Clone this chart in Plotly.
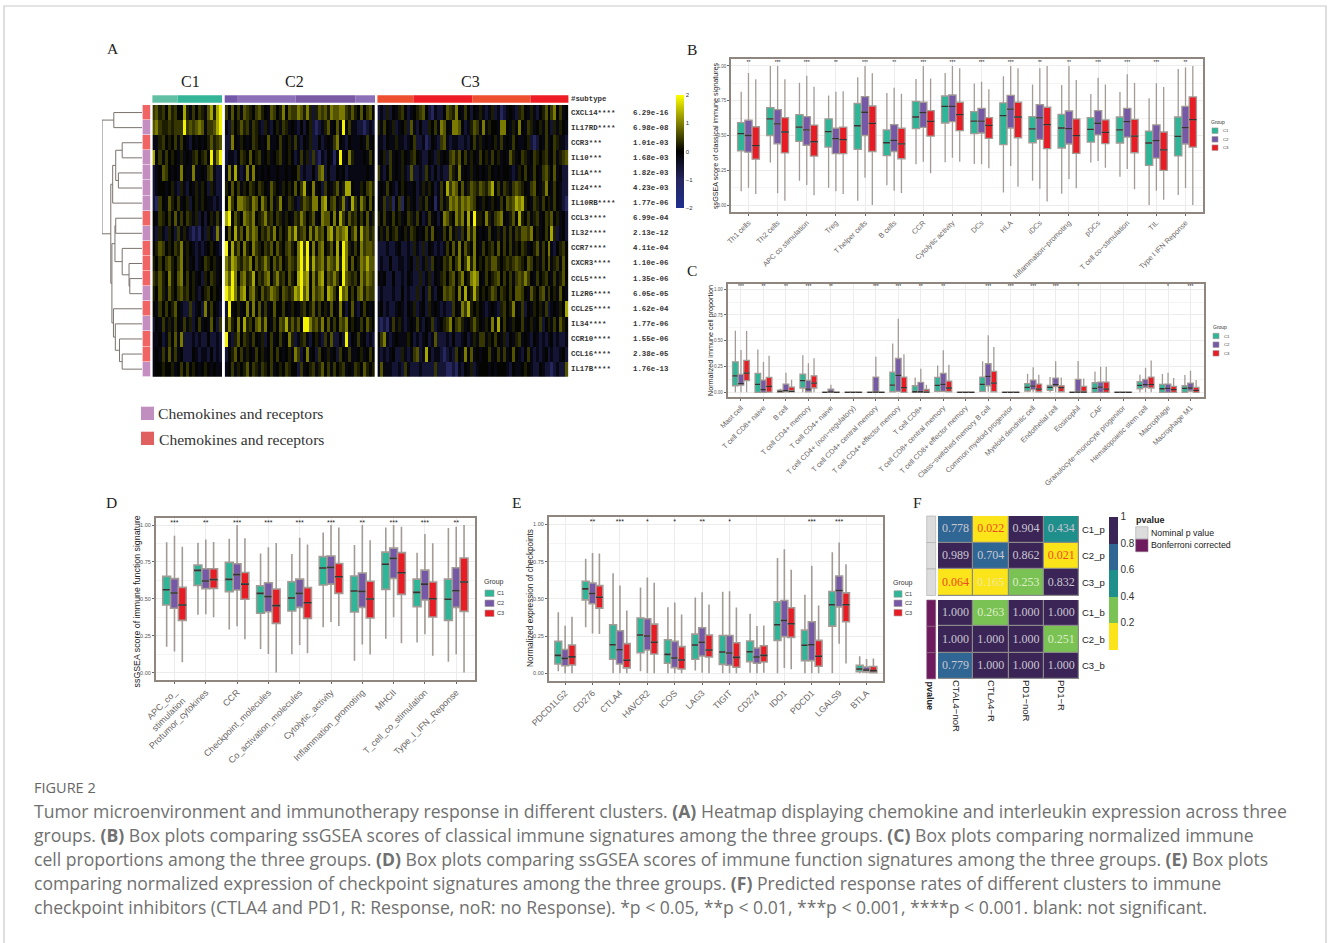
import plotly.graph_objects as go

W, H = 1328, 943

# ---------- Panel A data ----------
genes = ["CXCL14****","IL17RD****","CCR3***","IL10***","IL1A***","IL24***","IL10RB****","CCL3****","IL32****",
         "CCR7****","CXCR3****","CCL5****","IL2RG****","CCL25****","IL34****","CCR10****","CCL16****","IL17B****"]
pvals = ["6.29e-16","6.98e-08","1.01e-03","1.68e-03","1.82e-03","4.23e-03","1.77e-06","6.99e-04","2.13e-12",
         "4.11e-04","1.10e-06","1.35e-06","6.05e-05","1.62e-04","1.77e-06","1.55e-06","2.38e-05","1.76e-13"]
row_type = [1,0,1,0,0,0,0,1,0,1,1,1,0,1,0,1,1,0]
level_values = [-1.0,-0.55,-0.2,0.03,0.22,0.42,0.65,0.95,1.3,1.9]

c1_rows = ["56453645338425354268489","67544545559565676255689","22453435253213232346456",
"83525343242324534539479","12365323273227223256211","12332342142132424314211",
"10532643523413424322121","32543536253542413134252","21421431524210102142171",
"34653435472432121234321","43535643573423123543423","54643743673534231435423",
"43642643564534213453432","32535346321151231725321","13252425325241352326315",
"22312536271112121131121","23252625231113212213121","23343342353534323432322"]
c2_rows = ["52635265435643265347365"+"576474146564766775464363563",
"21534645254214213425423"+"213134101246236293522110121",
"11732432354323622352342"+"521324113123257321322232523",
"12213543634523423452343"+"125241510213203923742223253",
"27282127273232322322323"+"351211316713113231222222322",
"43635243543543264324343"+"635823723153246248832243564",
"38537765476375362473254"+"214654773783562471285275363",
"89364376573457453542432"+"547534623766373852645353624",
"36384637576354647353475"+"845637475637847678357385645",
"92846374375435463643564"+"379593726734638397425375665",
"75875465736457536463465"+"479694856747658497363476866",
"86973674583546735745364"+"389783747836575396545375765",
"98974783674364576536545"+"879683756738753967353674655",
"19234237273625236335324"+"324534625342632731362135323",
"47437384536747325365846"+"463997564736253657343253643",
"92146354253241352352374"+"124521342152611319132523121",
"13463524325342353532342"+"751372315324231532522342353",
"23524346354254352343543"+"315234524635253452325436434"]
c3_rows = ["121413245312345631021"+"1365473253132421241201232145324213463573523",
"425324123416213114352"+"7632776312465272433277324273254234253142432",
"221322422123511201321"+"5621221121352423234252325322341013252354221",
"234152324324532113214"+"2325646352432534253423264235423543452352456",
"521352324216112152131"+"2116427232423232432323321243532532564362311",
"232532134322312424312"+"5385763624654654683525425654325632473253211",
"325140350342314252302"+"5247675767653243243253656878432542534253210",
"435235342354253125231"+"3764375728394437425673246384352452354634231",
"342534523425432352632"+"2536241537473232532425252546657342352841231",
"111211231121421413212"+"1253627364373253453635352435423462537213453",
"121131122123141241532"+"3546357358473435466434545654365342536245263",
"323113112132114124132"+"4535635734787325345635352565753253453252463",
"121112113121141315213"+"3656537383485343465354353665326435625342632",
"231211232132412314232"+"1211532758434321232145347325132434251232438",
"101025242123252132512"+"3457356423464324373835324335234235134253643",
"357212322243121231261"+"1121311231242552435324132452321321212312112",
"212123114212561283122"+"1012153273623233523525236321352121231211231",
"262221121521112111151"+"1100102132412333232333213223432113211012116"]

# ---------- Panel B data: [low whisker, q1, median, q3, high whisker] ----------
b_categories = ["Th1 cells","Th2 cells","APC co stimulation","Treg","T helper cells","B cells","CCR","Cytolytic activity",
                "DCs","HLA","iDCs","Inflammation−promoting","pDCs","T cell co−stimulation","TIL","Type I IFN Reponse"]
b_stars = ["**","***","***","**","***","**","***","***","***","***","**","**","***","***","***","**"]
b_c1 = [[.10,.39,.513,.592,.815],[.305,.50,.62,.70,1],[.175,.458,.56,.65,.88],[.125,.417,.528,.62,.787],
        [.03,.40,.57,.73,.918],[.143,.355,.448,.54,.805],[.293,.55,.633,.746,.906],[.307,.59,.71,.784,.95],
        [.295,.513,.604,.671,.873],[.091,.434,.643,.734,.926],[.175,.448,.547,.635,.866],[.082,.41,.554,.652,.863],
        [.305,.453,.544,.628,.799],[.204,.446,.54,.633,.813],[0,.285,.446,.532,.767],[.072,.353,.494,.633,.978]]
b_c2 = [[.125,.38,.50,.61,.95],[.085,.44,.583,.686,1],[.145,.43,.54,.635,.93],[.10,.37,.477,.553,.815],
        [.197,.50,.667,.78,1],[.103,.385,.465,.578,.844],[.312,.559,.664,.739,1],[.34,.60,.71,.791,1],
        [.293,.518,.604,.695,.887],[.28,.554,.69,.789,1],[.118,.472,.626,.722,.983],[.187,.439,.549,.676,1],
        [.317,.504,.588,.679,.916],[.259,.489,.60,.695,.94],[.103,.338,.463,.576,.875],[.122,.439,.556,.71,.988]]
b_c3 = [[.08,.33,.427,.563,.905],[.03,.375,.525,.628,.905],[.07,.352,.455,.575,.85],[.08,.37,.47,.56,.818],
        [0,.385,.587,.712,.947],[.086,.333,.44,.552,.80],[.228,.496,.602,.679,.909],[.312,.535,.65,.739,.983],
        [.264,.48,.573,.628,.832],[.132,.484,.633,.739,.983],[.026,.405,.578,.703,1],[.12,.372,.499,.619,.899],
        [.269,.441,.523,.612,.866],[.113,.376,.496,.616,.878],[.038,.249,.396,.525,.849],[0,.417,.614,.777,1]]

# ---------- Panel C data ----------
c_categories = ["Mast cell","T cell CD8+ naive","B cell","T cell CD4+ memory","T cell CD4+ naive",
                "T cell CD4+ (non−regulatory)","T cell CD4+ central memory","T cell CD4+ effector memory","T cell CD8+",
                "T cell CD8+ central memory","T cell CD8+ effector memory","Class−switched memory B cell",
                "Common myeloid progenitor","Myeloid dendritic cell","Endothelial cell","Eosinophil","CAF",
                "Granulocyte−monocyte progenitor","Hematopoietic stem cell","Macrophage","Macrophage M1"]
c_stars = ["***","**","**","***","**","","***","***","**","**","","***","***","***","***","*","","","","*","***"]
flat = [0,0,0,.003,.005]
c_c1 = [[0,.064,.16,.296,.598],[0,0,.077,.183,.415],[0,0,.01,.022,.035],[0,.042,.113,.177,.36],flat,flat,flat,
        [0,.006,.071,.196,.473],[0,0,.006,.064,.145],[0,.01,.068,.145,.26],flat,[.005,.01,.077,.148,.302],flat,
        [0,.013,.048,.084,.18],[0,.019,.048,.068,.148],flat,[0,0,.039,.093,.203],flat,[0,.035,.068,.103,.17],
        [0,0,.035,.077,.177],[0,0,.039,.064,.167]]
c_c2 = [[0,.07,.084,.174,.41],[0,0,.026,.119,.293],[0,.006,.016,.08,.19],[0,.006,.032,.116,.283],[0,0,.004,.032,.074],flat,
        [0,0,.002,.148,.344],[.005,.01,.164,.328,.714],[0,0,.006,.096,.228],[.005,.01,.077,.183,.408],flat,
        [.005,.064,.154,.277,.553],flat,[0,.026,.061,.119,.244],[0,.055,.074,.138,.302],[0,0,.002,.125,.305],
        [0,0,.051,.10,.248],flat,[0,.048,.074,.125,.238],[0,0,.039,.08,.19],[0,.013,.042,.09,.209]]
c_c3 = [[0,.113,.187,.309,.595],[0,.003,.058,.145,.354],[0,.006,.01,.051,.122],[0,.042,.09,.16,.331],flat,flat,flat,
        [0,0,.045,.148,.37],[0,0,.002,.029,.074],[0,.006,.042,.109,.267],flat,[.005,.006,.09,.203,.44],flat,
        [0,.006,.032,.08,.17],[0,.006,.045,.064,.145],[0,0,.002,.058,.135],[0,0,.032,.10,.248],flat,
        [0,.042,.074,.148,.309],[0,0,.026,.058,.138],[0,0,.019,.048,.119]]

# ---------- Panel D data ----------
d_categories = ["APC_co_<br>stimulation","Protumor_cytokines","CCR","Checkpoint_molecules","Co_activation_molecules",
                "Cytolytic_activity","Inflammation_promoting","MHCII","T_cell_co_stimulation","Type_I_IFN_Reponse"]
d_stars = ["***","**","***","***","***","***","**","***","***","**"]
d_c1 = [[.176,.458,.562,.652,.883],[.393,.591,.693,.729,.88],[.293,.549,.632,.747,.907],[.16,.402,.537,.589,.808],
        [.124,.418,.506,.616,.804],[.307,.594,.709,.786,.95],[.081,.411,.553,.655,.865],[.23,.564,.734,.817,.984],
        [.205,.447,.544,.634,.813],[.074,.354,.497,.634,.98]]
d_c2 = [[.144,.436,.54,.637,.928],[.395,.569,.621,.704,.903],[.314,.56,.664,.738,1],[.126,.413,.515,.609,.849],
        [.187,.442,.537,.634,.914],[.343,.60,.713,.79,1],[.19,.442,.551,.675,1],[.375,.639,.774,.844,1],
        [.26,.492,.60,.695,.939],[.124,.442,.555,.711,.989]]
d_c3 = [[.07,.354,.458,.578,.853],[.375,.571,.63,.704,.885],[.226,.497,.60,.679,.91],[0,.334,.454,.567,.878],
        [.131,.368,.474,.576,.869],[.316,.537,.65,.74,.984],[.122,.37,.499,.619,.898],[.199,.53,.677,.813,.989],
        [.115,.377,.501,.614,.876],[0,.415,.614,.777,1]]

# ---------- Panel E data ----------
e_categories = ["PDCD1LG2","CD276","CTLA4","HAVCR2","ICOS","LAG3","TIGIT","CD274","IDO1","PDCD1","LGALS9","BTLA"]
e_stars = ["","**","***","*","*","**","*","","","***","***",""]
e_c1 = [[.013,.0625,.12,.214,.41],[.31,.493,.567,.618,.77],[0,.094,.192,.326,.672],[.013,.138,.257,.371,.576],
        [0,.067,.127,.225,.444],[.018,.094,.19,.263,.509],[0,.06,.143,.254,.547],[.004,.078,.145,.217,.40],
        [0,.221,.326,.48,.775],[0,.085,.188,.29,.527],[0,.317,.46,.549,.8125],[0,.011,.029,.054,.114]]
e_c2 = [[0,.05,.10,.16,.32],[.268,.467,.536,.607,.808],[0,.0625,.158,.286,.589],[0,.156,.25,.366,.643],
        [0,.038,.103,.214,.475],[.004,.116,.208,.306,.545],[0,.054,.136,.254,.551],[0,.067,.109,.17,.317],
        [.036,.246,.355,.489,.833],[0,.085,.192,.346,.723],[.199,.446,.556,.654,.879],[0,.009,.022,.042,.096]]
e_c3 = [[0,.056,.11,.19,.38],[.263,.4375,.511,.589,.804],[0,.036,.087,.199,.422],[0,.129,.208,.33,.609],
        [0,.029,.089,.179,.395],[0,.109,.156,.257,.462],[0,.04,.107,.205,.442],[.004,.076,.12,.185,.321],
        [.027,.241,.333,.44,.696],[0,.047,.114,.221,.455],[.065,.346,.46,.54,.732],[0,.004,.018,.045,.10]]

# ---------- Panel F data ----------
f_columns = ["CTAL4−noR","CTLA4−R","PD1−noR","PD1−R"]
f_rows_p = ["C1_p","C2_p","C3_p"]
f_rows_b = ["C1_b","C2_b","C3_b"]
f_p = [[.778,.022,.904,.434],[.989,.704,.862,.021],[.064,.165,.253,.832]]
f_b = [[1.0,.263,1.0,1.0],[1.0,1.0,1.0,.251],[.779,1.0,1.0,1.0]]

group_names = ["C1","C2","C3"]

# ---------- Styling and layout ----------
C_FILL = ["#2fb597","#7558a6","#e81c24"]
FRAME = "#8f877f"
WHISK = "#a39b96"
SANS = "Liberation Sans"
SERIF = "Liberation Serif"
MONO = "Liberation Mono"

def dx(l, r): return [l / W, r / W]
def dy(t, b): return [1 - b / H, 1 - t / H]
def px(x): return x / W
def py(y): return 1 - y / H

fig = go.Figure()
layout = {}
annots = []
shapes = []

def note(x, y, text, size, color="#222", family=SANS, anchor="left", angle=0, vanchor="middle"):
    annots.append(dict(x=px(x), y=py(y), xref="paper", yref="paper", text=text, showarrow=False,
                       font=dict(size=size, color=color, family=family), xanchor=anchor, yanchor=vanchor,
                       textangle=angle, align="left", borderpad=0, borderwidth=0))

def rect(x0, y0, x1, y1, fill, line=None, lw=0, layer="above"):
    shapes.append(dict(type="rect", xref="paper", yref="paper", x0=px(x0), x1=px(x1), y0=py(y0), y1=py(y1),
                       fillcolor=fill, line=dict(color=line or fill, width=lw), layer=layer))

# ---------- Panel A ----------
def decode(rows):
    n = max(len(r) for r in rows)
    return [[level_values[int(c)] for c in r.ljust(n, "2")] for r in rows]

HM_COLORS = [[0, "#1f2f90"], [0.25, "#25265e"], [0.5, "#000000"], [0.75, "#808000"], [1, "#ffff00"]]
A_T, A_B = 105, 376.7
clusters = [(c1_rows, 152.4, 222), (c2_rows, 224.7, 375), (c3_rows, 377.4, 568.4)]
for i, (rows, l, r) in enumerate(clusters, start=1):
    z = decode(rows)
    tr = go.Heatmap(z=z, x=list(range(len(z[0]))), y=list(range(18)), xaxis=f"x{i}", yaxis=f"y{i}",
                    colorscale=HM_COLORS, zmin=-2, zmax=2, hoverinfo="skip", showscale=(i == 1))
    if i == 1:
        tr.colorbar = dict(x=px(675.5), xanchor="left", y=py(151.5), yanchor="middle", len=113 / H, lenmode="fraction",
                           thickness=7.5, thicknessmode="pixels", xpad=0, ypad=0, outlinewidth=0,
                           tickvals=[-2, -1, 0, 1, 2], ticks="", tickfont=dict(size=6, color="#333", family=SANS))
    fig.add_trace(tr)
    layout[f"xaxis{i}"] = dict(domain=dx(l, r), visible=False, anchor=f"y{i}")
    layout[f"yaxis{i}"] = dict(domain=dy(A_T, A_B), visible=False, range=[17.5, -0.5], anchor=f"x{i}")

# dendrogram
dendro_merges = [(0,1,.705),(2,3,.495),(4,5,.59),(19,20,.657),(21,6,.733),(7,8,.657),(11,12,.305),(10,24,.324),
                 (9,25,.495),(23,26,.676),(16,17,.495),(15,28,.562),(14,29,.667),(13,30,.714),(27,31,.752),
                 (22,32,.78),(18,33,1.0)]
node_y = {i: float(i) for i in range(18)}
node_h = {i: 0.0 for i in range(18)}
dx_pts, dy_pts = [], []
for k, (a, b, h) in enumerate(dendro_merges):
    dx_pts += [node_h[a], h, h, node_h[b], None]
    dy_pts += [node_y[a], node_y[a], node_y[b], node_y[b], None]
    node_y[18 + k] = (node_y[a] + node_y[b]) / 2
    node_h[18 + k] = h
fig.add_trace(go.Scatter(x=dx_pts, y=dy_pts, mode="lines", line=dict(color="#7a736d", width=1), xaxis="x4", yaxis="y4",
                         hoverinfo="skip", showlegend=False))
layout["xaxis4"] = dict(domain=dx(102, 142), visible=False, range=[1.0, 0], anchor="y4")
layout["yaxis4"] = dict(domain=dy(A_T, A_B), visible=False, range=[17.5, -0.5], anchor="x4")

# row annotation bar
fig.add_trace(go.Heatmap(z=[[t] for t in row_type], x=[0], y=list(range(18)), xaxis="x5", yaxis="y5", zmin=0, zmax=1,
                         colorscale=[[0, "#c48fc0"], [0.5, "#c48fc0"], [0.5, "#f06464"], [1, "#f06464"]], showscale=False,
                         hoverinfo="skip", ygap=0.5))
layout["xaxis5"] = dict(domain=dx(142.4, 150.5), visible=False, anchor="y5")
layout["yaxis5"] = dict(domain=dy(A_T, A_B), visible=False, range=[17.5, -0.5], anchor="x5")

for g, p, i in zip(genes, pvals, range(18)):
    for txt, xpos in ((g, 570.5), (p, 633.4)):
        annots.append(dict(x=px(xpos), y=i, xref="paper", yref="y1", text=f"<b>{txt}</b>", showarrow=False, xanchor="left",
                           yanchor="middle", borderpad=0, borderwidth=0, font=dict(size=7.4, family=MONO, color="#333")))
note(570.5, 99, "<b>#subtype</b>", 7.4, "#333", MONO)

subtype_segments = [(152.4, 177.6, "#61bfa4"), (177.6, 222, "#35b597"), (224.7, 237, "#7357a8"), (237, 295.5, "#8c70b8"),
                    (295.5, 355.2, "#7a5aa5"), (355.2, 375, "#8c70b8"), (377.4, 413.4, "#ee4f30"), (413.4, 472.3, "#ee1c25"),
                    (472.3, 530.5, "#ee4f30"), (530.5, 568.4, "#ee1c25")]
for l, r, c in subtype_segments:
    rect(l, 95.3, r, 102.7, c)
for name, x in zip(group_names, (190, 294.7, 470.8)):
    note(x, 81.7, name, 16, "#222", SERIF, "center")

rect(141, 406.7, 154, 420, "#c08fc0")
rect(141, 431.7, 154, 445, "#e06060")
note(158, 413, "Chemokines and receptors", 15.6, "#333", SERIF)
note(158.5, 439.5, "Chemokines and receptors", 15.6, "#333", SERIF)

# ---------- Box panels ----------
def box_panel(idx, cats, stars, series, rect_px, rng, tick_size, y_size, lw, star_size, star_y):
    l, t, r, b = rect_px
    xa, ya = f"x{idx}", f"y{idx}"
    for g, (name, vals, fill) in enumerate(zip(group_names, series, C_FILL)):
        low, q1, med, q3, high = [list(c) for c in zip(*vals)]
        fig.add_trace(go.Box(x=cats, q1=q1, median=med, q3=q3, lowerfence=low, upperfence=high, name=name,
                             fillcolor=fill, line=dict(color=WHISK, width=lw), whiskerwidth=0, boxpoints=False,
                             xaxis=xa, yaxis=ya, offsetgroup=name, alignmentgroup=f"p{idx}", showlegend=False, hoverinfo="skip"))
        fig.add_trace(go.Box(x=cats, q1=med, median=med, q3=med, lowerfence=med, upperfence=med, name=name,
                             fillcolor="rgba(0,0,0,0)", line=dict(color="#333333", width=lw), whiskerwidth=0, boxpoints=False,
                             xaxis=xa, yaxis=ya, offsetgroup=name, alignmentgroup=f"p{idx}", showlegend=False, hoverinfo="skip"))
    fig.add_trace(go.Scatter(x=cats, y=[star_y] * len(cats), text=stars, mode="text", xaxis=xa, yaxis=ya,
                             textfont=dict(size=star_size, color="#222", family=SANS), textposition="middle center",
                             showlegend=False, hoverinfo="skip"))
    layout[f"xaxis{idx}"] = dict(domain=dx(l, r), anchor=ya, type="category", categoryorder="array", categoryarray=cats,
                                 range=[-0.6, len(cats) - 0.4], tickangle=-45, showline=True, mirror=True, linecolor=FRAME,
                                 linewidth=1.6, ticks="outside", ticklen=2, tickwidth=0.6, tickcolor="#666",
                                 tickfont=dict(size=tick_size, color="#6a6664", family=SANS),
                                 showgrid=True, gridcolor="#ececec", gridwidth=0.6, zeroline=False)
    layout[f"yaxis{idx}"] = dict(domain=dy(t, b), anchor=xa, range=rng, tickvals=[0, .25, .5, .75, 1], tickformat=".2f",
                                 showline=True, mirror=True, linecolor=FRAME, linewidth=1.6, ticks="outside", ticklen=2,
                                 tickwidth=0.6, tickcolor="#666", tickfont=dict(size=y_size, color="#555", family=SANS),
                                 showgrid=True, gridcolor="#ececec", gridwidth=0.6, zeroline=False,
                                 minor=dict(tickvals=[.125, .375, .625, .875], showgrid=True, gridcolor="#f4f4f4", gridwidth=0.5, ticks=""))

box_panel(6, b_categories, b_stars, (b_c1, b_c2, b_c3), (731, 59, 1203, 212), [-0.05, 1.05], 7.3, 4.5, 1.3, 5, 1.02)
box_panel(7, c_categories, c_stars, (c_c1, c_c2, c_c3), (727.5, 284, 1204, 397), [-0.045, 1.05], 7.3, 4.5, 1.3, 5, 1.025)
box_panel(8, d_categories, d_stars, (d_c1, d_c2, d_c3), (155.7, 517.7, 475, 680), [-0.05, 1.05], 9, 5.5, 1.6, 7, 1.015)
box_panel(9, e_categories, e_stars, (e_c1, e_c2, e_c3), (548.7, 517, 883, 680.7), [-0.05, 1.05], 8.8, 5.5, 1.6, 7, 1.015)

note(715, 136, "ssGSEA score of classical immune signatures", 7.2, "#222", SANS, "center", -90)
note(710, 341, "Normalized immune cell proportion", 7.2, "#222", SANS, "center", -90)
note(136.7, 601.7, "ssGSEA score of immune function signature", 8.8, "#222", SANS, "center", -90)
note(530, 598, "Normalized expression of checkpoints", 8.2, "#222", SANS, "center", -90)

def group_legend(tx, ty, kx0, kx1, ys, kh, lx, tsize, lsize):
    note(tx, ty, "Group", tsize, "#333")
    for y, c, n in zip(ys, C_FILL, group_names):
        rect(kx0, y - kh / 2, kx1, y + kh / 2, c, WHISK, 0.6)
        note(lx, y, n, lsize, "#333")

group_legend(1211.4, 121.7, 1212, 1218, (130.7, 139.3, 147.7), 5.5, 1223, 5, 4.2)
group_legend(1213, 326.7, 1213, 1219, (336, 344.7, 353.3), 5.5, 1223.6, 5, 4.2)
group_legend(484, 581.7, 485, 494, (593.3, 603.3, 613.3), 6.5, 497, 7, 5.5)
group_legend(893, 583, 894, 902, (594, 603.3, 612.7), 6.5, 905, 7, 5.5)

# ---------- Panel F ----------
F_COLORS = ["#fbe41a", "#7ac253", "#1f8f8c", "#2f6694", "#3b2556"]
f_scale = []
for i, c in enumerate(F_COLORS):
    f_scale += [[i / 5, c], [(i + 1) / 5, c]]
F_L, F_R = 938, 1079
blocks = [(f_p, f_rows_p, 516, 596, 10), (f_b, f_rows_b, 600, 679, 11)]
for z, rows, t, b, idx in blocks:
    xa, ya = f"x{idx}", f"y{idx}"
    rect(F_L, t, F_R, b, "#8a8a8a", layer="below")
    tr = go.Heatmap(z=z, x=f_columns, y=rows, xaxis=xa, yaxis=ya, colorscale=f_scale, zmin=0, zmax=1, xgap=1.2, ygap=1.2,
                    hoverinfo="skip", showscale=(idx == 10))
    if idx == 10:
        tr.colorbar = dict(x=px(1109), xanchor="left", y=py(583), yanchor="middle", len=132.5 / H, lenmode="fraction",
                           thickness=9, thicknessmode="pixels", xpad=0, ypad=0, outlinewidth=0, ticks="",
                           tickvals=[.2, .4, .6, .8, 1], ticktext=["0.2", "0.4", "0.6", "0.8", "1"],
                           tickfont=dict(size=10, color="#333", family=SANS))
    fig.add_trace(tr)
    xs, ys, labels, colors = [], [], [], []
    for row, vals in zip(rows, z):
        for col, v in zip(f_columns, vals):
            xs.append(col); ys.append(row); labels.append(f"{v:.3f}")
            if v < .1:
                colors.append("#ee4a22")
            elif v < .2:
                colors.append("#efe9a0")
            elif v < .4:
                colors.append("#dcefc8")
            else:
                colors.append("#c9c6d2")
    fig.add_trace(go.Scatter(x=xs, y=ys, text=labels, mode="text", xaxis=xa, yaxis=ya, showlegend=False, hoverinfo="skip",
                             textfont=dict(size=12, family=SERIF, color=colors), textposition="middle center"))
    layout[f"xaxis{idx}"] = dict(domain=dx(F_L, F_R), anchor=ya, type="category", showgrid=False, zeroline=False, ticks="",
                                 showticklabels=(idx == 11), tickangle=90, tickfont=dict(size=9.5, color="#222", family=SANS))
    layout[f"yaxis{idx}"] = dict(domain=dy(t, b), anchor=xa, side="right", type="category", autorange="reversed", showgrid=False,
                                 zeroline=False, ticks="", ticklen=2, ticklabelstandoff=2, tickfont=dict(size=9.5, color="#222", family=SANS))

for i in range(3):
    rect(926.7, 516 + i * 26.5, 935.7, 516 + (i + 1) * 26.5, "#dcdcdc", "#aaaaaa", 0.6)
    rect(926.7, 600 + i * 26.3, 935.7, 600 + (i + 1) * 26.3, "#6d1b5e", "#8a6a80", 0.6)
note(930, 681, "<b>pvalue</b>", 9, "#222", SANS, "center", 90, "top")
note(1135.7, 520, "<b>pvalue</b>", 9, "#222")
rect(1135.7, 526.7, 1148, 539, "#dcdcdc", "#aaaaaa", 0.6)
rect(1135.7, 539.3, 1148, 551.7, "#6d1b5e", "#8a6a80", 0.6)
note(1151, 532.7, "Nominal p value", 8.8, "#222")
note(1151, 545, "Bonferroni corrected", 8.8, "#222")

# ---------- Panel letters ----------
for letter, x, y in (("A", 113, 48), ("B", 692, 49), ("C", 692, 271), ("D", 112, 503), ("E", 516, 503), ("F", 917, 503)):
    note(x, y, letter, 15.5, "#222", SERIF, "center")

# ---------- Caption ----------
caption_lines = [
    "Tumor microenvironment and immunotherapy response in different clusters. <b>(A)</b> Heatmap displaying chemokine and interleukin expression across three",
    "groups. <b>(B)</b> Box plots comparing ssGSEA scores of classical immune signatures among the three groups. <b>(C)</b> Box plots comparing normalized immune",
    "cell proportions among the three groups. <b>(D)</b> Box plots comparing ssGSEA scores of immune function signatures among the three groups. <b>(E)</b> Box plots",
    "comparing normalized expression of checkpoint signatures among the three groups. <b>(F)</b> Predicted response rates of different clusters to immune",
    "checkpoint inhibitors (CTLA4 and PD1, R: Response, noR: no Response). *p &lt; 0.05, **p &lt; 0.01, ***p &lt; 0.001, ****p &lt; 0.001. blank: not significant.",
]
note(34, 787, "FIGURE 2", 14.5, "#666", "Open Sans")
for line, y in zip(caption_lines, (811, 835, 859, 883, 907)):
    note(34, y, line, 17.6, "#707070", "Open Sans")

# card border
rect(4, 6, 1326, 960, "rgba(0,0,0,0)", "#c9c9c9", 1.2, "below")

fig.update_layout(width=W, height=H, margin=dict(l=0, r=0, t=0, b=0, autoexpand=False), paper_bgcolor="white", plot_bgcolor="white",
                  showlegend=False, boxmode="group", boxgap=0.25, boxgroupgap=0, annotations=annots, shapes=shapes, **layout)
fig.write_html("out.html", config={"displayModeBar": False},
               post_script="document.body.style.margin='0';document.body.style.overflow='hidden';")
